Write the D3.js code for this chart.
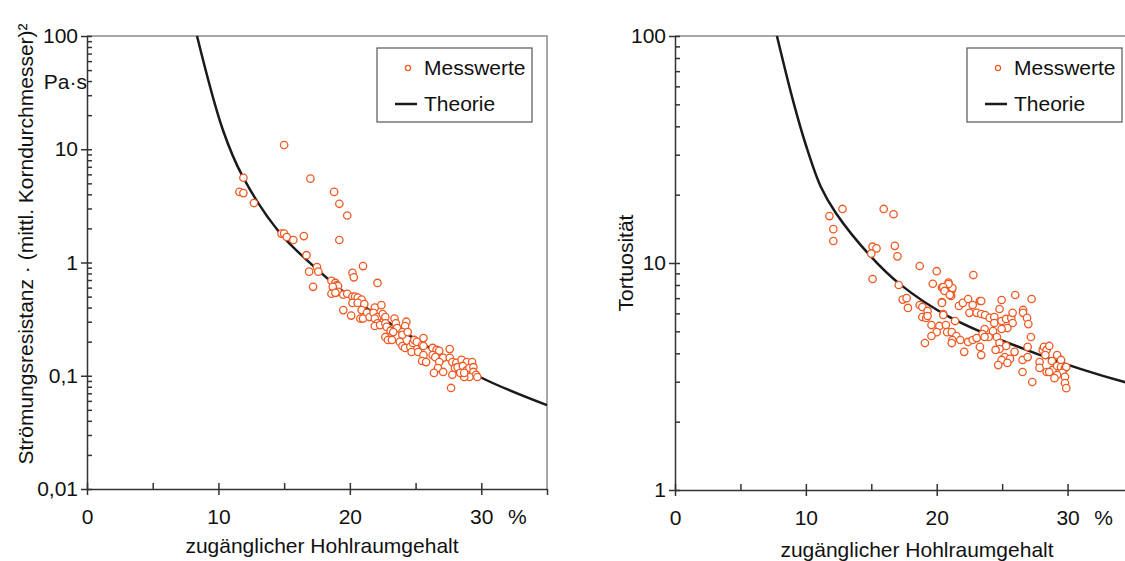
<!DOCTYPE html>
<html>
<head>
<meta charset="utf-8">
<script src="https://cdn.jsdelivr.net/npm/d3@7"></script>
<style>
  body { margin: 0; background: #fff; }
  svg text { font-family: "Liberation Sans", Arial, sans-serif; font-size: 21px; fill: #111; }
</style>
</head>
<body>
<svg id="chart" width="1125" height="561"></svg>
<script>
// ---- data ----
const xMajor = [0, 10, 20, 30];
const xMinor = [5, 15, 25];
const xTitle = "zugänglicher Hohlraumgehalt";
const legendLabels = ["Messwerte", "Theorie"];

const resistTicks = [0.01, 0.1, 1, 10, 100];
const resistTickLabels = ["0,01", "0,1", "1", "10", "100"];
const resistTitle = "Strömungsresistanz · (mittl. Korndurchmesser)²";
const resistUnit = "Pa·s";

// theory curve, left panel [porosity %, value]
const resistTheory = [
  [8.37, 100], [10.34, 14.8], [11.86, 5.7], [14.68, 1.82], [16.73, 1.05],
  [20, 0.5], [25, 0.21], [29.9, 0.0975], [35, 0.055]
];

// measured points, left panel
const resistMeasured = [
  [11.6, 4.2], [11.9, 4.1], [11.9, 5.6], [12.7, 3.35], [15.0, 10.9], [14.8, 1.8],
  [15.0, 1.8], [15.2, 1.68], [15.7, 1.58], [16.5, 1.71], [16.7, 1.16], [17.0, 5.5],
  [18.8, 4.2], [19.2, 3.3], [19.8, 2.6], [19.2, 1.58],
  [17.5, 0.91], [17.6, 0.83], [16.9, 0.83], [17.2, 0.61], [20.2, 0.81], [20.3, 0.74],
  [21.0, 0.93], [22.1, 0.66], [18.6, 0.69], [18.9, 0.66], [19.0, 0.63], [19.1, 0.62],
  [18.7, 0.61], [19.1, 0.55], [18.6, 0.53], [18.9, 0.54], [19.5, 0.52], [19.5, 0.38],
  [20.1, 0.34], [19.8, 0.53], [20.2, 0.50], [20.4, 0.50], [20.6, 0.49], [20.9, 0.47],
  [20.2, 0.44], [20.6, 0.44], [21.1, 0.43], [20.9, 0.38], [21.3, 0.36], [20.8, 0.32],
  [21.0, 0.32], [21.5, 0.33], [21.9, 0.40], [22.4, 0.42], [21.8, 0.36], [22.1, 0.33],
  [22.5, 0.35], [22.7, 0.33], [21.9, 0.32], [22.1, 0.29], [21.9, 0.275], [22.3, 0.28],
  [22.7, 0.29], [22.8, 0.27], [23.4, 0.32], [23.5, 0.29], [23.6, 0.264], [24.3, 0.30],
  [24.2, 0.275], [23.1, 0.25], [23.3, 0.243], [22.7, 0.22], [22.9, 0.207], [23.2, 0.207],
  [24.0, 0.243], [24.0, 0.23], [24.4, 0.243], [23.8, 0.199], [24.0, 0.183], [24.2, 0.176],
  [24.6, 0.18], [24.8, 0.195], [24.9, 0.207], [25.1, 0.199], [25.5, 0.187], [25.6, 0.215],
  [25.6, 0.183], [24.7, 0.162], [25.2, 0.162], [25.6, 0.152], [25.5, 0.135], [25.8, 0.132],
  [26.3, 0.176], [26.6, 0.169], [26.8, 0.166], [26.3, 0.152], [26.5, 0.146], [27.1, 0.144],
  [26.8, 0.132], [27.6, 0.172], [27.6, 0.144], [27.8, 0.132], [28.1, 0.13], [28.0, 0.117],
  [28.5, 0.138], [28.9, 0.132], [29.3, 0.132], [28.2, 0.119], [28.6, 0.122], [28.9, 0.112],
  [29.1, 0.117], [29.4, 0.119], [29.4, 0.108], [29.6, 0.102], [29.7, 0.0975], [29.1, 0.0975],
  [28.7, 0.0975], [28.4, 0.106], [28.7, 0.106], [27.8, 0.102], [26.7, 0.117], [27.1, 0.108],
  [26.4, 0.106], [27.7, 0.078]
];

const tortTicks = [1, 10, 100];
const tortTickLabels = ["1", "10", "100"];
const tortTitle = "Tortuosität";

const tortTheory = [
  [7.79, 100], [9.01, 52.2], [10.0, 33.1], [11.15, 21.6], [12.29, 16.6],
  [14.89, 10.8], [17.18, 8.07], [20.99, 5.78], [27.86, 3.94], [34.35, 2.99], [35, 2.93]
];

const tortMeasured = [
  [12.8, 17.3], [11.8, 16.1], [12.1, 14.1], [12.1, 12.5], [15.95, 17.3], [16.7, 16.4],
  [15.1, 11.8], [15.4, 11.6], [15.0, 11.0], [16.8, 11.9], [17.0, 10.7], [15.1, 8.5],
  [18.7, 9.7], [20.0, 9.2], [17.1, 8.0], [19.7, 8.1], [17.4, 6.9], [17.7, 7.0],
  [17.8, 6.34], [20.4, 7.8], [20.9, 8.2], [20.6, 7.6], [21.15, 7.6], [21.2, 7.76],
  [21.1, 7.16], [20.4, 6.73], [18.7, 6.53], [18.9, 6.40], [19.3, 6.15], [18.9, 5.78],
  [19.2, 5.73], [19.3, 5.84], [20.5, 5.96], [19.6, 5.33], [20.2, 5.28], [20.7, 5.33],
  [20.0, 4.96], [20.8, 4.96], [21.15, 4.96], [19.6, 4.77], [19.1, 4.44], [21.5, 4.77],
  [21.4, 5.55], [21.7, 6.47], [22.8, 8.85], [20.9, 8.08], [20.5, 7.83], [20.6, 7.53],
  [21.0, 7.23], [20.4, 6.67], [20.5, 5.9], [22.0, 6.67], [22.4, 6.94], [22.75, 6.53],
  [23.3, 6.8], [23.4, 6.8], [22.5, 6.03], [23.05, 6.03], [23.4, 5.96], [23.7, 5.9],
  [24.05, 5.73], [24.4, 5.78], [24.96, 6.87], [26.0, 7.23], [27.25, 6.94], [24.8, 6.27],
  [24.4, 5.44], [24.96, 5.55], [25.3, 5.67], [25.7, 5.73], [25.8, 6.03], [26.6, 6.21],
  [26.6, 6.03], [26.9, 5.73], [27.0, 5.38], [25.8, 5.44], [25.4, 5.17], [24.96, 5.12],
  [24.3, 5.01], [23.66, 5.12], [23.5, 4.86], [23.97, 4.72], [24.6, 4.72], [24.8, 4.44],
  [25.3, 4.31], [25.95, 4.06], [24.8, 4.18], [24.5, 4.14], [23.3, 4.27], [23.4, 3.93],
  [22.1, 4.06], [22.4, 4.49], [22.75, 4.58], [23.05, 4.67], [21.8, 4.58], [21.2, 4.58],
  [21.15, 4.44], [23.66, 4.72], [25.2, 3.85], [25.6, 3.78], [24.96, 3.74], [24.7, 3.55],
  [25.4, 3.63], [26.56, 3.74], [26.95, 3.85], [27.2, 4.72], [26.95, 4.27], [26.56, 3.31],
  [27.3, 2.99], [27.86, 3.66], [27.86, 3.45], [28.1, 4.14], [28.2, 4.27], [28.4, 4.14],
  [28.6, 4.31], [28.3, 3.93], [28.8, 3.70], [28.85, 3.38], [29.2, 3.52], [29.2, 3.93],
  [29.5, 3.74], [29.5, 3.48], [29.8, 3.45], [29.9, 3.48], [29.6, 3.28], [29.2, 3.21],
  [29.0, 3.11], [29.8, 3.15], [29.8, 2.96], [29.9, 2.81], [28.4, 3.31], [28.6, 3.31]
];

const dotColor = "#ee5a24";
const lineColor = "#1a1a1a";
const frameColor = "#8a8a8a";
const axisColor = "#333";

const svg = d3.select("#chart");

function minorTicks(domain) {
  const out = [];
  for (let e = Math.log10(domain[0]); e < Math.log10(domain[1]); e++) {
    for (let k = 2; k <= 9; k++) out.push(k * Math.pow(10, e));
  }
  return out;
}

function drawPanel(cfg) {
  const x = d3.scaleLinear().domain([0, 35]).range([cfg.left, cfg.right]);
  const y = d3.scaleLog().domain(cfg.yDomain).range([cfg.bottom, cfg.top]);
  const g = svg.append("g");

  // frame (top + right)
  g.append("path")
    .attr("d", `M${cfg.left},${cfg.top}H${cfg.right}V${cfg.bottom}`)
    .attr("fill", "none")
    .attr("stroke", frameColor)
    .attr("stroke-width", 1.5);

  // x axis
  const xAxis = g.append("g")
    .attr("transform", `translate(0,${cfg.bottom})`)
    .call(d3.axisBottom(x).tickValues(xMajor).tickSize(6).tickSizeOuter(0).tickFormat(d3.format("d")));
  xAxis.selectAll(".tick line").attr("y1", -6).attr("y2", 6);
  xAxis.selectAll(".tick text").attr("y", 20);
  g.append("g")
    .attr("transform", `translate(0,${cfg.bottom})`)
    .call(d3.axisBottom(x).tickValues(xMinor.concat([35])).tickSize(-6).tickSizeOuter(0).tickFormat(""))
    .call(a => a.select(".domain").remove())
    .call(a => a.selectAll(".tick").filter(d => d === 35).select("line").attr("y2", 6));

  // y axis
  const yAxis = g.append("g")
    .attr("transform", `translate(${cfg.left},0)`)
    .call(d3.axisLeft(y).tickValues(cfg.yTicks).tickSize(6).tickSizeOuter(0)
      .tickFormat((d, i) => cfg.yLabels[i]));
  yAxis.selectAll(".tick line").attr("x1", 5);
  g.append("g")
    .attr("transform", `translate(${cfg.left},0)`)
    .call(d3.axisLeft(y).tickValues(minorTicks(cfg.yDomain)).tickSize(-5).tickFormat(""))
    .call(a => a.select(".domain").remove());

  g.selectAll(".domain, .tick line").attr("stroke", axisColor).attr("stroke-width", 1.5);
  g.selectAll(".tick text").attr("font-size", 21).attr("fill", "#111")
    .attr("font-family", "Liberation Sans, Arial, sans-serif");

  // "%" after the 30 tick
  g.append("text")
    .attr("x", x(30) + 36).attr("y", cfg.bottom + 35)
    .attr("text-anchor", "middle")
    .text("%");

  // axis titles
  g.append("text")
    .attr("x", cfg.xTitleX).attr("y", cfg.xTitleY)
    .attr("text-anchor", "middle")
    .text(xTitle);
  g.append("text")
    .attr("transform", `translate(${cfg.yTitleX},${cfg.yTitleY}) rotate(-90)`)
    .attr("text-anchor", "middle")
    .text(cfg.yTitle);

  // theory curve
  const line = d3.line()
    .x(d => x(d[0]))
    .y(d => y(d[1]))
    .curve(d3.curveCatmullRom.alpha(0.5));
  g.append("path")
    .datum(cfg.theory)
    .attr("d", line)
    .attr("fill", "none")
    .attr("stroke", lineColor)
    .attr("stroke-width", 2.5);

  // measured points
  g.append("g")
    .selectAll("circle")
    .data(cfg.measured)
    .join("circle")
    .attr("cx", d => x(d[0]))
    .attr("cy", d => y(d[1]))
    .attr("r", 3.7)
    .attr("fill", "#fff")
    .attr("stroke", dotColor)
    .attr("stroke-width", 1.3);

  // legend
  const lg = g.append("g").attr("transform", `translate(${cfg.legendX},${cfg.legendY})`);
  lg.append("rect")
    .attr("width", 155).attr("height", 74)
    .attr("fill", "#fff")
    .attr("stroke", "#555")
    .attr("stroke-width", 1.2);
  lg.append("circle")
    .attr("cx", 31).attr("cy", 20).attr("r", 2.6)
    .attr("fill", "#fff").attr("stroke", dotColor).attr("stroke-width", 1.2);
  lg.append("text").attr("x", 47).attr("y", 27).text(legendLabels[0]);
  lg.append("line")
    .attr("x1", 18).attr("x2", 40).attr("y1", 56).attr("y2", 56)
    .attr("stroke", lineColor).attr("stroke-width", 2.5);
  lg.append("text").attr("x", 47).attr("y", 63).text(legendLabels[1]);

  return g;
}

const leftPanel = drawPanel({
  left: 87, right: 547, top: 36, bottom: 489,
  yDomain: [0.01, 100], yTicks: resistTicks, yLabels: resistTickLabels,
  yTitle: resistTitle, yTitleX: 33, yTitleY: 244,
  xTitleX: 322, xTitleY: 553,
  theory: resistTheory, measured: resistMeasured,
  legendX: 377, legendY: 48
});
leftPanel.append("text")
  .attr("x", 87).attr("y", 89)
  .attr("text-anchor", "end")
  .text(resistUnit);

drawPanel({
  left: 675, right: 1133, top: 36, bottom: 490,
  yDomain: [1, 100], yTicks: tortTicks, yLabels: tortTickLabels,
  yTitle: tortTitle, yTitleX: 633, yTitleY: 263,
  xTitleX: 917, xTitleY: 557,
  theory: tortTheory, measured: tortMeasured,
  legendX: 967, legendY: 48
});
</script>
</body>
</html>
